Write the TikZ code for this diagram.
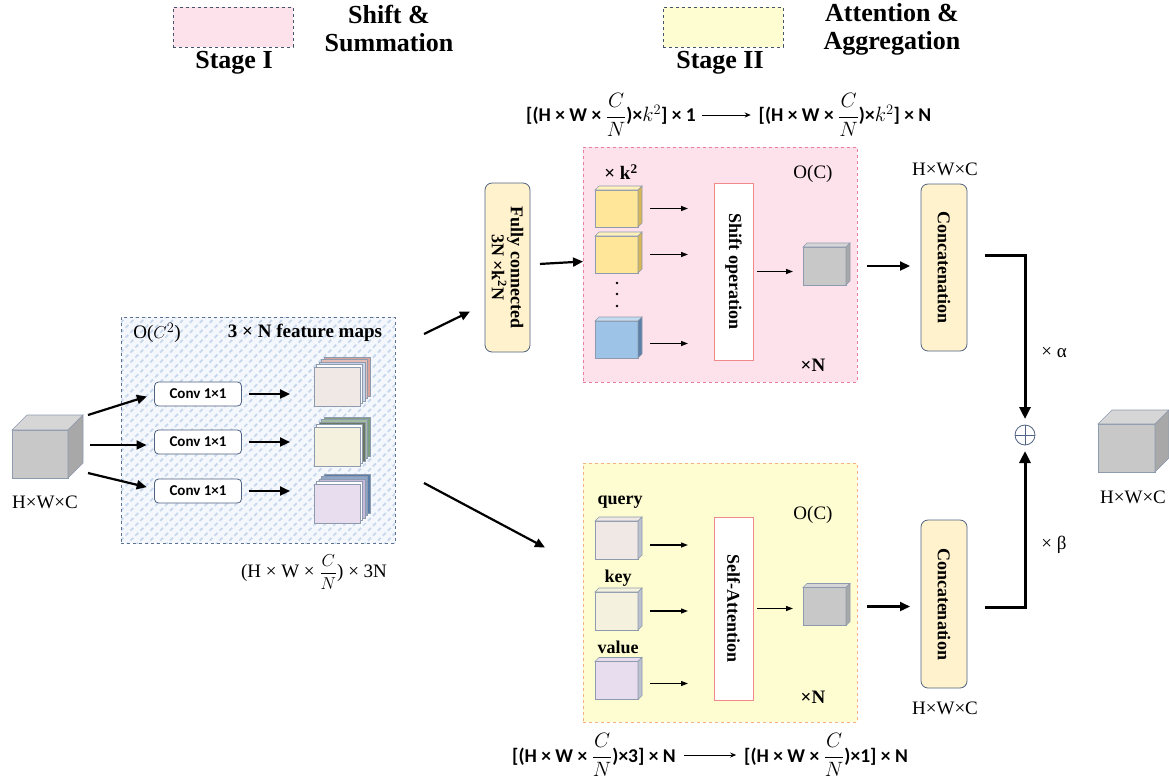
\documentclass[tikz,border=0pt]{standalone}
\usepackage{fontspec}
\setmainfont{Liberation Serif}
\newfontfamily\carlito{Carlito}
\usetikzlibrary{arrows.meta, positioning, patterns.meta}

\definecolor{stagepink}{HTML}{FDE2EB}
\definecolor{pinkedge}{HTML}{E87DA0}
\definecolor{stageyellow}{HTML}{FEFDD2}
\definecolor{yellowedge}{HTML}{F4B183}
\definecolor{legendedge}{HTML}{44546A}
\definecolor{edgeblue}{HTML}{4E6282}
\definecolor{boxyellow}{HTML}{FFF2CC}
\definecolor{opred}{HTML}{F08A8A}
\definecolor{hatchfill}{HTML}{F4F7FC}
\definecolor{hatchline}{HTML}{C6D7EC}
\definecolor{hatchedge}{HTML}{5D7290}
\definecolor{cubefront}{HTML}{C8C8C8}
\definecolor{cubetop}{HTML}{D6D6D6}
\definecolor{cubeside}{HTML}{A8A8A8}
\definecolor{cubeedge}{HTML}{8E9AAE}
\definecolor{ylwfront}{HTML}{FFE699}
\definecolor{ylwtop}{HTML}{FFF0BE}
\definecolor{ylwside}{HTML}{D6B656}
\definecolor{bluefront}{HTML}{9DC3E6}
\definecolor{bluetop}{HTML}{C5DCF0}
\definecolor{blueside}{HTML}{5E7FA8}
\definecolor{queryc}{HTML}{EFE8E4}
\definecolor{keyc}{HTML}{F4F2DE}
\definecolor{valuec}{HTML}{E8DCEF}
\definecolor{fmredA}{HTML}{D9A39B}
\definecolor{fmredB}{HTML}{E3BDB6}
\definecolor{fmredC}{HTML}{C9D5E8}
\definecolor{fmgreenA}{HTML}{7E9E80}
\definecolor{fmgreenB}{HTML}{A3BC9E}
\definecolor{fmgreenC}{HTML}{6A7862}
\definecolor{fmblueA}{HTML}{5A7EA8}
\definecolor{fmblueB}{HTML}{8DA6C9}
\definecolor{fmblueC}{HTML}{C7B9DC}

% top and side faces of a cube whose front face is a node
\newcommand{\drawcube}[4]{%
  \filldraw[fill=#3, draw=cubeedge, line width=0.6pt] (#1.north west) -- ([shift={(#2,-#2)}]#1.north west) -- ([shift={(#2,-#2)}]#1.north east) -- (#1.north east) -- cycle;
  \filldraw[fill=#4, draw=cubeedge, line width=0.6pt] (#1.north east) -- ([shift={(#2,-#2)}]#1.north east) -- ([shift={(#2,-#2)}]#1.south east) -- (#1.south east) -- cycle;
}
\newcommand{\fracCN}{{\displaystyle\frac{C}{N}}}

\begin{document}
\begin{tikzpicture}[x=1pt, y=-1pt,
    every node/.style={inner sep=0pt, outer sep=0pt},
    legendtxt/.style={font=\bfseries\fontsize{26}{28}\selectfont, align=center},
    dimtxt/.style={font=\fontsize{19}{21}\selectfont},
    boldtxt/.style={font=\bfseries\fontsize{18}{20}\selectfont},
    formula/.style={font=\carlito\bfseries\fontsize{19.5}{21}\selectfont},
    cube/.style={draw=cubeedge, line width=0.6pt},
    convbox/.style={draw=edgeblue, line width=0.8pt, rounded corners=4pt, fill=white, minimum width=87, minimum height=24, font=\carlito\bfseries\fontsize{15}{16}\selectfont},
    roundbox/.style={draw=edgeblue, line width=0.8pt, rounded corners=7pt, fill=boxyellow, rotate=-90, align=center, font=\bfseries\fontsize{18}{19}\selectfont},
    opbox/.style={draw=opred, line width=1pt, fill=white, rotate=-90, font=\bfseries\fontsize{18}{19}\selectfont},
    bigarrow/.style={-{Triangle[length=10pt,width=9pt]}, line width=2.2pt},
    smallarrow/.style={-{Triangle[length=7pt,width=5pt]}, line width=1.3pt},
    formarrow/.style={-{Stealth[length=6pt,width=5pt]}, line width=0.8pt},
    joinline/.style={-{Triangle[length=12pt,width=11pt]}, line width=3pt},
  ]
  \useasboundingbox (0,0) rectangle (1169,780);

  % Legend
  \node[fill=stagepink, draw=legendedge, dashed, minimum width=120, minimum height=40] (leg1) at (233,27) {};
  \node[legendtxt] (leg1lab) at (234,63) {Stage I};
  \node[legendtxt] (leg1txt) at (389,29) {Shift \&\\Summation};
  \node[fill=stageyellow, draw=legendedge, dashed, minimum width=120, minimum height=40] (leg2) at (723,27) {};
  \node[legendtxt] (leg2lab) at (720,63) {Stage II};
  \node[legendtxt] (leg2txt) at (892,29) {Attention \&\\Aggregation};

  % Shapes above and below the two stages
  \node[formula] (ftop1) at (611,115) {[(H × W × $\fracCN$)×$k^2$] × 1};
  \node[formula] (ftop2) at (845,115) {[(H × W × $\fracCN$)×$k^2$] × N};
  \draw[formarrow, shorten <=6pt, shorten >=8pt] (ftop1.east) -- (ftop2.west);
  \node[formula] (fbot1) at (594,755) {[(H × W × $\fracCN$)×3] × N};
  \node[formula] (fbot2) at (826,755) {[(H × W × $\fracCN$)×1] × N};
  \draw[formarrow, shorten <=8pt, shorten >=8pt] (fbot1.east) -- (fbot2.west);

  % Input
  \node[cube, fill=cubefront, minimum width=56, minimum height=48] (incube) at (40,454) {};
  \drawcube{incube}{15}{cubetop}{cubeside}
  \node[dimtxt] (inlab) at (45,502) {H×W×C};

  % Feature maps
  \node[minimum width=274, minimum height=226, draw=hatchedge, dashed, line width=0.8pt,
        preaction={fill=hatchfill}, pattern={Lines[angle=45, distance=7pt, line width=1.8pt]},
        pattern color=hatchline] (fmaps) at (258,430) {};
  \node[dimtxt] (cost1) at (157,333) {O($C^2$)};
  \node[font=\bfseries\fontsize{19}{21}\selectfont] (fmlab) at (305,333) {3 × N feature maps};
  \node[convbox] (conv1) at (198,394) {Conv 1×1};
  \node[convbox] (conv2) at (198,442) {Conv 1×1};
  \node[convbox] (conv3) at (198,491) {Conv 1×1};
  \foreach \y/\ca/\cb/\cc in {367/fmredA/fmredB/fmredC, 427/fmgreenA/fmgreenB/fmgreenC, 484/fmblueA/fmblueB/fmblueC}
    \foreach \i/\c in {4/\ca, 3/\cb, 2/\cc, 1/white}
      \draw[cube, fill=\c] (314+2.5*\i, \y-2.5*\i) rectangle ++(46,39);
  \node[cube, fill=queryc, minimum width=46, minimum height=39] (fm1) at (337,386.5) {};
  \node[cube, fill=keyc, minimum width=46, minimum height=39] (fm2) at (337,446.5) {};
  \node[cube, fill=valuec, minimum width=46, minimum height=39] (fm3) at (337,503.5) {};
  \node[dimtxt] (fmdim) at (314,572) {(H × W × $\fracCN$) × 3N};
  \draw[bigarrow, shorten >=8pt] ([shift={(20,-39)}]incube.east) -- (conv1.west);
  \draw[bigarrow, shorten >=8pt] ([shift={(22,-9)}]incube.east) -- ([shift={(0,3)}]conv2.west);
  \draw[bigarrow, shorten >=8pt] ([shift={(20,19)}]incube.east) -- ([shift={(0,-2)}]conv3.west);
  \draw[bigarrow, shorten <=7pt, shorten >=24pt] (conv1.east) -- (conv1.east -| fm1.west);
  \draw[bigarrow, shorten <=7pt, shorten >=24pt] (conv2.east) -- (conv2.east -| fm2.west);
  \draw[bigarrow, shorten <=7pt, shorten >=24pt] (conv3.east) -- (conv3.east -| fm3.west);

  % Stage I
  \node[fill=stagepink, draw=pinkedge, dashed, line width=0.8pt, minimum width=274, minimum height=235] (stageone) at (720,264.5) {};
  \node[roundbox, minimum width=169, minimum height=45] (fc) at (507.5,267.5) {Fully connected\\3N ×k\textsuperscript{2}N};
  \draw[bigarrow] ([shift={(29,-96)}]fmaps.east) -- ([shift={(-15,44)}]fc.south);
  \draw[bigarrow, shorten <=10pt] ([shift={(0,-3)}]fc.north) -- ([shift={(0,-3)}]stageone.west);
  \node[font=\bfseries\fontsize{19}{21}\selectfont] (ktimes) at (621,172) {× k\textsuperscript{2}};
  \node[cube, fill=ylwfront, minimum width=43, minimum height=37] (sc1) at (616.5,208.5) {};
  \drawcube{sc1}{4}{ylwtop}{ylwside}
  \node[cube, fill=ylwfront, minimum width=43, minimum height=37] (sc2) at (616.5,254.5) {};
  \drawcube{sc2}{4}{ylwtop}{ylwside}
  \fill (617,283) circle (1.4) (617,294) circle (1.4) (617,306) circle (1.4);
  \node[cube, fill=bluefront, minimum width=43, minimum height=37] (sc3) at (616.5,339.5) {};
  \drawcube{sc3}{4}{bluetop}{blueside}
  \node[opbox, minimum width=177, minimum height=39] (shiftop) at (733.5,271.5) {Shift operation};
  \draw[smallarrow, shorten <=12pt, shorten >=26pt] (sc1.east) -- (sc1.east -| shiftop.south);
  \draw[smallarrow, shorten <=12pt, shorten >=26pt] (sc2.east) -- (sc2.east -| shiftop.south);
  \draw[smallarrow, shorten <=12pt, shorten >=26pt] ([shift={(0,4)}]sc3.east) -- ([shift={(0,4)}]sc3.east -| shiftop.south);
  \node[cube, fill=cubefront, minimum width=43, minimum height=38] (outone) at (824.5,266) {};
  \drawcube{outone}{4}{cubetop}{cubeside}
  \draw[smallarrow, shorten <=4pt, shorten >=10pt] (shiftop.north) -- (shiftop.north -| outone.west);
  \node[dimtxt] (cost2) at (813,174) {O(C)};
  \node[font=\bfseries\fontsize{19}{21}\selectfont] (rep1) at (813,365) {×N};

  % Stage II
  \node[fill=stageyellow, draw=yellowedge, dashed, line width=0.8pt, minimum width=274, minimum height=259] (stagetwo) at (720,592.5) {};
  \draw[bigarrow] ([shift={(29,53)}]fmaps.east) -- ([shift={(-38,-45)}]stagetwo.west);
  \node[boldtxt] (qlab) at (620,502) {query};
  \node[cube, fill=queryc, minimum width=43, minimum height=38] (qc) at (616.5,540) {};
  \drawcube{qc}{4}{queryc}{cubeedge!60}
  \node[boldtxt] (klab) at (618,578) {key};
  \node[cube, fill=keyc, minimum width=43, minimum height=38] (kc) at (616.5,611) {};
  \drawcube{kc}{4}{keyc}{cubeedge!60}
  \node[boldtxt] (vlab) at (618,647) {value};
  \node[cube, fill=valuec, minimum width=43, minimum height=38] (vc) at (616.5,680.5) {};
  \drawcube{vc}{4}{valuec}{cubeedge!60}
  \node[opbox, minimum width=183, minimum height=39] (selfatt) at (733.5,608.5) {Self-Attention};
  \draw[smallarrow, shorten <=12pt, shorten >=26pt] ([shift={(0,5)}]qc.east) -- ([shift={(0,5)}]qc.east -| selfatt.south);
  \draw[smallarrow, shorten <=12pt, shorten >=26pt] (kc.east) -- (kc.east -| selfatt.south);
  \draw[smallarrow, shorten <=12pt, shorten >=26pt] ([shift={(0,3)}]vc.east) -- ([shift={(0,3)}]vc.east -| selfatt.south);
  \node[cube, fill=cubefront, minimum width=43, minimum height=38] (outtwo) at (824.5,606.5) {};
  \drawcube{outtwo}{4}{cubetop}{cubeside}
  \draw[smallarrow, shorten <=4pt, shorten >=10pt] (selfatt.north) -- (selfatt.north -| outtwo.west);
  \node[dimtxt] (cost3) at (813,515) {O(C)};
  \node[font=\bfseries\fontsize{19}{21}\selectfont] (rep2) at (813,697) {×N};

  % Aggregation
  \node[roundbox, minimum width=167, minimum height=46] (topcat) at (944,267.5) {Concatenation};
  \node[dimtxt] (toplab) at (945,169) {H×W×C};
  \draw[bigarrow, shorten <=21pt, shorten >=11pt] (outone.east) -- (outone.east -| topcat.south);
  \node[roundbox, minimum width=168, minimum height=46] (botcat) at (944,604) {Concatenation};
  \node[dimtxt] (botlab) at (945,708) {H×W×C};
  \draw[bigarrow, shorten <=21pt, shorten >=11pt] (outtwo.east) -- (outtwo.east -| botcat.south);
  \node[circle, draw=edgeblue, line width=0.8pt, minimum size=20] (plus) at (1025,435) {};
  \draw[edgeblue, line width=0.8pt] (plus.north) -- (plus.south) (plus.west) -- (plus.east);
  \draw[joinline, shorten <=18pt, shorten >=6pt] ([shift={(0,-12)}]topcat.north) -| (plus.north);
  \draw[joinline, shorten <=18pt, shorten >=6pt] ([shift={(0,3)}]botcat.north) -| (plus.south);
  \node[dimtxt] (alab) at (1054,352) {× α};
  \node[dimtxt] (blab) at (1054,545) {× β};

  % Output
  \node[cube, fill=cubefront, minimum width=57, minimum height=48] (outcube) at (1126.5,448) {};
  \drawcube{outcube}{14}{cubetop}{cubeside}
  \node[dimtxt] (outlab) at (1133,497) {H×W×C};
\end{tikzpicture}
\end{document}
